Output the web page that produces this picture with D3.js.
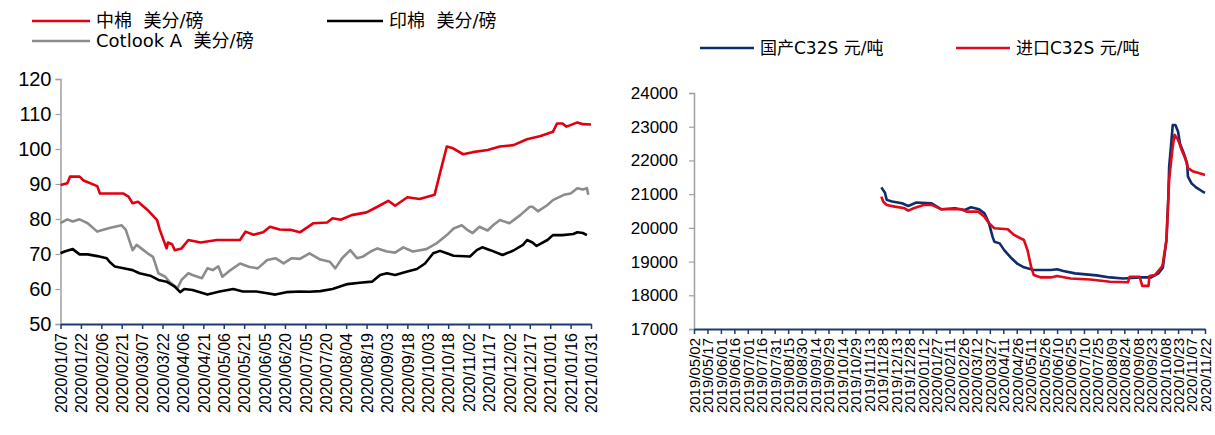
<!DOCTYPE html>
<html>
<head>
<meta charset="utf-8">
<script src="https://cdn.jsdelivr.net/npm/d3@7"></script>
<style>
  body { margin: 0; background: #fff; }
  svg { font-family: "DejaVu Sans", "Noto Sans CJK SC", sans-serif; }
</style>
</head>
<body>
<svg id="chart" width="1215" height="435"></svg>
<script>
// tick labels of the two charts
let leftLabels = ["2020/01/07","2020/01/22","2020/02/06","2020/02/21","2020/03/07","2020/03/22","2020/04/06",
  "2020/04/21","2020/05/06","2020/05/21","2020/06/05","2020/06/20","2020/07/05","2020/07/20","2020/08/04",
  "2020/08/19","2020/09/03","2020/09/18","2020/10/03","2020/10/18","2020/11/02","2020/11/17","2020/12/02",
  "2020/12/17","2021/01/01","2021/01/16","2021/01/31"]
let rightLabels = ["2019/05/02","2019/05/17","2019/06/01","2019/06/16","2019/07/01","2019/07/16","2019/07/31",
  "2019/08/15","2019/08/30","2019/09/14","2019/09/29","2019/10/14","2019/10/29","2019/11/13","2019/11/28",
  "2019/12/13","2019/12/28","2020/01/12","2020/01/27","2020/02/11","2020/02/26","2020/03/12","2020/03/27",
  "2020/04/11","2020/04/26","2020/05/11","2020/05/26","2020/06/10","2020/06/25","2020/07/10","2020/07/25",
  "2020/08/09","2020/08/24","2020/09/08","2020/09/23","2020/10/08","2020/10/23","2020/11/07","2020/11/22"]
let leftYTicks = [50, 60, 70, 80, 90, 100, 110, 120]
let rightYTicks = [17000, 18000, 19000, 20000, 21000, 22000, 23000, 24000]

// 中棉 美分/磅
let chinaCotton = [["2020-01-07",89.7],["2020-01-12",90.2],["2020-01-14",92.1],["2020-01-21",92.1],["2020-01-24",91],
  ["2020-02-03",89.4],["2020-02-05",87.3],["2020-02-22",87.3],["2020-02-26",86.4],["2020-02-29",84.5],["2020-03-04",84.9],
  ["2020-03-11",82.6],["2020-03-18",79.7],["2020-03-20",76.9],["2020-03-25",71.6],["2020-03-26",73.3],["2020-03-29",72.8],
  ["2020-03-31",71.1],["2020-04-05",71.6],["2020-04-10",74],["2020-04-19",73.3],["2020-05-01",74],["2020-05-13",74],
  ["2020-05-18",74],["2020-05-22",76.4],["2020-05-28",75.5],["2020-06-04",76.2],["2020-06-09",77.8],["2020-06-16",77],
  ["2020-06-24",76.9],["2020-07-01",76.2],["2020-07-11",78.8],["2020-07-21",79],["2020-07-25",80.2],["2020-07-31",79.8],
  ["2020-08-08",81.1],["2020-08-19",81.9],["2020-08-27",83.5],["2020-09-04",85.2],["2020-09-09",83.8],["2020-09-18",86.2],
  ["2020-09-27",85.7],["2020-10-08",86.9],["2020-10-12",93.1],["2020-10-17",100.7],["2020-10-21",100.3],["2020-10-29",98.5],
  ["2020-11-05",99.1],["2020-11-16",99.7],["2020-11-25",100.7],["2020-12-05",101.1],["2020-12-15",102.8],["2020-12-25",103.7],
  ["2021-01-03",104.9],["2021-01-06",107.3],["2021-01-10",107.3],["2021-01-13",106.4],["2021-01-21",107.6],["2021-01-25",107.1],
  ["2021-01-31",107]]

// 印棉 美分/磅
let indiaCotton = [["2020-01-07",70.2],["2020-01-10",70.7],["2020-01-16",71.4],["2020-01-21",69.9],["2020-01-27",69.9],
  ["2020-02-03",69.4],["2020-02-10",68.8],["2020-02-12",67.8],["2020-02-16",66.4],["2020-02-25",65.7],["2020-02-29",65.4],
  ["2020-03-05",64.5],["2020-03-13",63.8],["2020-03-19",62.6],["2020-03-25",62.1],["2020-03-31",60.7],["2020-04-04",59.1],
  ["2020-04-07",60],["2020-04-13",59.7],["2020-04-21",58.8],["2020-04-24",58.4],["2020-05-03",59.3],["2020-05-13",60],
  ["2020-05-20",59.3],["2020-05-30",59.3],["2020-06-07",58.8],["2020-06-13",58.4],["2020-06-21",59.1],["2020-07-01",59.3],
  ["2020-07-08",59.2],["2020-07-16",59.4],["2020-07-25",60],["2020-08-05",61.4],["2020-08-14",61.8],["2020-08-23",62.1],
  ["2020-08-29",64],["2020-09-03",64.5],["2020-09-09",64],["2020-09-18",65],["2020-09-25",65.7],["2020-10-01",67.3],
  ["2020-10-07",70.2],["2020-10-12",70.9],["2020-10-17",70.2],["2020-10-22",69.5],["2020-11-03",69.3],["2020-11-08",71.1],
  ["2020-11-12",71.9],["2020-11-18",71.1],["2020-11-27",69.7],["2020-12-05",71],["2020-12-12",72.6],["2020-12-15",74],
  ["2020-12-19",73.3],["2020-12-22",72.3],["2020-12-30",74],["2021-01-03",75.4],["2021-01-10",75.4],["2021-01-18",75.7],
  ["2021-01-21",76.2],["2021-01-25",76],["2021-01-28",75.4]]

// Cotlook A 美分/磅
let cotlookA = [["2020-01-07",78.8],["2020-01-12",79.9],["2020-01-16",79.3],["2020-01-21",79.9],["2020-01-27",78.8],
  ["2020-02-03",76.4],["2020-02-12",77.4],["2020-02-21",78.2],["2020-02-24",76.9],["2020-02-29",71.1],["2020-03-03",72.6],
  ["2020-03-08",71.1],["2020-03-11",70.2],["2020-03-15",69.2],["2020-03-19",64.5],["2020-03-24",63.5],["2020-03-27",62.1],
  ["2020-04-02",60.2],["2020-04-05",62.6],["2020-04-10",64.5],["2020-04-13",64],["2020-04-20",63.1],["2020-04-24",65.9],
  ["2020-04-28",65.4],["2020-05-02",66.5],["2020-05-05",63.5],["2020-05-11",65.4],["2020-05-18",67.3],["2020-05-25",66.3],
  ["2020-05-31",65.9],["2020-06-07",68.3],["2020-06-13",68.8],["2020-06-19",67.3],["2020-06-25",68.8],["2020-07-01",68.6],
  ["2020-07-08",70.2],["2020-07-16",68.4],["2020-07-23",67.8],["2020-07-27",65.9],["2020-08-01",68.8],["2020-08-07",71.1],
  ["2020-08-12",68.8],["2020-08-16",69.2],["2020-08-22",70.7],["2020-08-27",71.6],["2020-09-03",70.7],["2020-09-09",70.4],
  ["2020-09-15",71.9],["2020-09-22",70.7],["2020-10-02",71.4],["2020-10-10",73.2],["2020-10-17",75.4],["2020-10-22",77.3],
  ["2020-10-28",78.2],["2020-11-01",76.9],["2020-11-05",76],["2020-11-10",77.8],["2020-11-16",76.7],["2020-11-20",78.2],
  ["2020-11-25",79.7],["2020-12-02",78.8],["2020-12-10",81.1],["2020-12-17",83.5],["2020-12-19",83.5],["2020-12-23",82.2],
  ["2020-12-30",84],["2021-01-03",85.4],["2021-01-11",86.9],["2021-01-16",87.3],["2021-01-21",88.8],["2021-01-25",88.4],
  ["2021-01-28",88.8],["2021-01-29",86.9]]

// 国产C32S 元/吨
let domesticC32S = [["2019-11-27",21200],["2019-12-01",21040],["2019-12-03",20830],["2019-12-09",20780],["2019-12-20",20730],
  ["2019-12-27",20650],["2020-01-05",20750],["2020-01-22",20730],["2020-02-02",20550],["2020-02-17",20580],["2020-02-28",20530],
  ["2020-03-06",20610],["2020-03-15",20550],["2020-03-21",20430],["2020-03-26",20140],["2020-03-30",19740],["2020-04-01",19590],
  ["2020-04-07",19540],["2020-04-12",19340],["2020-04-19",19130],["2020-04-27",18930],["2020-05-04",18830],["2020-05-15",18750],
  ["2020-06-03",18750],["2020-06-10",18770],["2020-06-17",18720],["2020-06-30",18650],["2020-07-24",18590],["2020-08-08",18530],
  ["2020-08-23",18500],["2020-09-10",18530],["2020-09-23",18530],["2020-10-01",18650],["2020-10-06",18820],["2020-10-10",19640],
  ["2020-10-12",20830],["2020-10-13",21810],["2020-10-15",22410],["2020-10-17",23050],["2020-10-20",23050],["2020-10-23",22850],
  ["2020-10-25",22510],["2020-10-30",22160],["2020-11-02",21910],["2020-11-03",21520],["2020-11-07",21320],["2020-11-12",21200],
  ["2020-11-18",21100],["2020-11-22",21040]]

// 进口C32S 元/吨
let importC32S = [["2019-11-27",20925],["2019-11-29",20780],["2019-12-03",20680],["2019-12-12",20630],["2019-12-23",20580],
  ["2019-12-27",20510],["2020-01-02",20580],["2020-01-13",20680],["2020-01-22",20680],["2020-02-02",20550],["2020-02-24",20550],
  ["2020-03-01",20480],["2020-03-14",20480],["2020-03-21",20330],["2020-03-26",20140],["2020-04-01",19990],["2020-04-16",19960],
  ["2020-04-23",19790],["2020-05-04",19640],["2020-05-08",19340],["2020-05-12",18850],["2020-05-15",18600],["2020-05-23",18530],
  ["2020-06-03",18530],["2020-06-10",18570],["2020-06-25",18500],["2020-07-17",18470],["2020-08-08",18400],["2020-08-28",18385],
  ["2020-08-30",18550],["2020-09-10",18550],["2020-09-13",18280],["2020-09-20",18280],["2020-09-21",18570],["2020-09-27",18600],
  ["2020-10-05",18850],["2020-10-06",18950],["2020-10-10",19640],["2020-10-13",21420],["2020-10-17",22410],["2020-10-19",22760],
  ["2020-10-23",22610],["2020-10-27",22310],["2020-10-31",22060],["2020-11-03",21770],["2020-11-09",21670],["2020-11-16",21620],
  ["2020-11-22",21570]]

let parseLabel = d3.timeParse("%Y/%m/%d")
let parseDay = d3.timeParse("%Y-%m-%d")

let svg = d3.select("#chart")

// draws one panel: axes, ticks and the series lines
function drawPanel(opts) {
  let x = d3.scaleTime()
    .domain([parseLabel(opts.labels[0]), parseLabel(opts.labels[opts.labels.length - 1])])
    .range([opts.left, opts.right])
  let y = d3.scaleLinear()
    .domain(opts.yDomain)
    .range([opts.bottom, opts.top])

  let g = svg.append("g")

  // y axis (grey)
  let yAxis = g.append("g")
    .attr("transform", "translate(" + opts.left + ",0)")
    .call(d3.axisLeft(y).tickValues(opts.yTicks).tickSize(5).tickPadding(opts.yPad).tickFormat(d3.format("d")))
  yAxis.select(".domain").attr("stroke", "#a0a0a0").attr("stroke-width", 1.5)
  yAxis.selectAll(".tick line").attr("stroke", "#a0a0a0").attr("stroke-width", 1.2)
  yAxis.selectAll("text").style("font-size", opts.yFont + "px").attr("fill", "#000")

  // series
  let line = d3.line()
    .x(function(d) { return x(parseDay(d[0])) })
    .y(function(d) { return y(d[1]) })
  opts.series.forEach(function(s) {
    g.append("path")
      .datum(s.data)
      .attr("fill", "none")
      .attr("stroke", s.color)
      .attr("stroke-width", 2.6)
      .attr("stroke-linejoin", "round")
      .attr("d", line)
  })

  // x axis (navy) with rotated date labels
  let xAxis = g.append("g")
    .attr("transform", "translate(0," + opts.bottom + ")")
    .call(d3.axisBottom(x)
      .tickValues(opts.labels.map(parseLabel))
      .tickSize(5)
      .tickSizeOuter(0)
      .tickFormat(d3.timeFormat("%Y/%m/%d")))
  xAxis.select(".domain").attr("stroke", "#1f3a6e").attr("stroke-width", 2)
  xAxis.selectAll(".tick line").attr("stroke", "#1f3a6e").attr("stroke-width", 1.5)
  xAxis.selectAll("text")
    .attr("transform", "rotate(-90)")
    .attr("x", -9)
    .attr("y", 0)
    .attr("dy", "0.36em")
    .style("text-anchor", "end")
    .style("font-size", opts.xFont + "px")
    .attr("fill", "#000")
}

drawPanel({
  labels: leftLabels, left: 60.5, right: 591, top: 79, bottom: 324,
  yDomain: [50, 120], yTicks: leftYTicks, yFont: 20, yPad: 4, xFont: 16,
  series: [
    { data: cotlookA, color: "#8c8c8c" },
    { data: indiaCotton, color: "#000000" },
    { data: chinaCotton, color: "#e00010" }
  ]
})

drawPanel({
  labels: rightLabels, left: 694, right: 1205, top: 93, bottom: 329,
  yDomain: [17000, 24000], yTicks: rightYTicks, yFont: 17, yPad: 11, xFont: 15,
  series: [
    { data: domesticC32S, color: "#0f2c6b" },
    { data: importC32S, color: "#e00a1a" }
  ]
})

// legends
let legendItems = [
  { x: 32, y: 21, w: 58, color: "#e00010", text: "中棉  美分/磅", size: 18 },
  { x: 327, y: 21, w: 56, color: "#000000", text: "印棉  美分/磅", size: 18 },
  { x: 32, y: 41, w: 58, color: "#8c8c8c", text: "Cotlook A  美分/磅", size: 18 },
  { x: 700, y: 48, w: 54, color: "#0f2c6b", text: "国产C32S 元/吨", size: 17 },
  { x: 956, y: 48, w: 54, color: "#e00a1a", text: "进口C32S 元/吨", size: 17 }
]
let legend = svg.append("g").selectAll("g")
  .data(legendItems)
  .enter()
  .append("g")
legend.append("line")
  .attr("x1", function(d) { return d.x })
  .attr("x2", function(d) { return d.x + d.w })
  .attr("y1", function(d) { return d.y })
  .attr("y2", function(d) { return d.y })
  .attr("stroke", function(d) { return d.color })
  .attr("stroke-width", 2.6)
legend.append("text")
  .attr("x", function(d) { return d.x + d.w + 6 })
  .attr("y", function(d) { return d.y })
  .attr("dy", "0.36em")
  .style("font-size", function(d) { return d.size + "px" })
  .style("white-space", "pre")
  .attr("xml:space", "preserve")
  .text(function(d) { return d.text })
</script>
</body>
</html>
